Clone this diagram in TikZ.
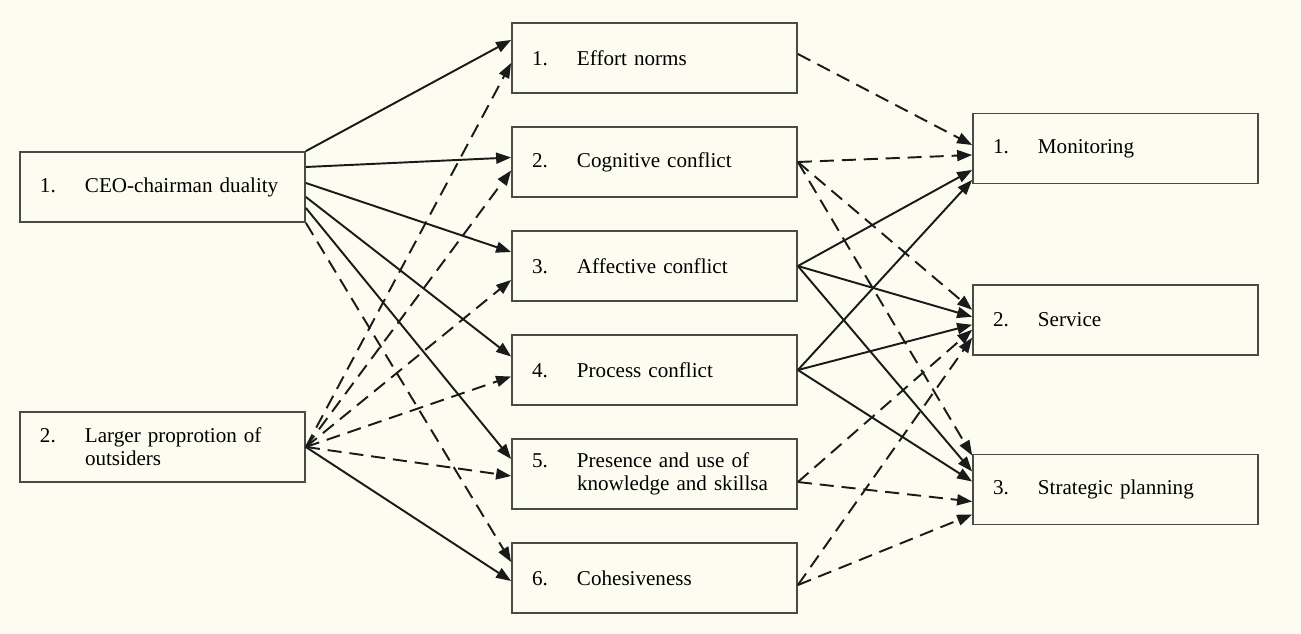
\documentclass[tikz,border=0pt]{standalone}
\usepackage{fontspec}
\setmainfont{Liberation Serif}
\usepackage{xcolor}
\usepackage{tikz}
\usetikzlibrary{arrows.meta, positioning}
\definecolor{PaperCream}{HTML}{FCFCF1}
\definecolor{BoxGrey}{HTML}{4A4A46}
\definecolor{InkBlack}{HTML}{1A1A1A}
\newcommand{\itemlabel}[2]{\makebox[0.9cm][l]{#1}#2}

\begin{document}
\begin{tikzpicture}[node distance=0.645cm, every node/.style={font=\fontsize{12}{13}\selectfont}]
  \tikzstyle{factor}=[rectangle, draw=BoxGrey, line width=1pt, minimum height=1.4cm, inner xsep=0.4cm, text width=4.9cm, align=left]
  \tikzstyle{link}=[-{Triangle[length=0.3cm, width=0.22cm]}, line width=1.1pt, draw=InkBlack]
  \tikzstyle{dlink}=[link, dash pattern=on 8pt off 4.5pt]

  \fill[PaperCream] (0,0) rectangle (26.02,12.68);
  \useasboundingbox (0,0) rectangle (26.02,12.68);

  \node[factor] (duality) at (3.25,8.94) {\itemlabel{1.}{CEO-chairman duality}};
  \node[factor] (outsiders) at (3.25,3.74) {\itemlabel{2.}{Larger proprotion of}\\\hspace*{0.9cm}outsiders};

  \node[factor] (effort) at (13.09,11.52) {\itemlabel{1.}{Effort norms}};
  \node[factor, below=of effort] (cognitive) {\itemlabel{2.}{Cognitive conflict}};
  \node[factor, below=of cognitive] (affective) {\itemlabel{3.}{Affective conflict}};
  \node[factor, below=of affective] (process) {\itemlabel{4.}{Process conflict}};
  \node[factor, below=of process] (knowledge) {\itemlabel{5.}{Presence and use of}\\\hspace*{0.9cm}knowledge and skillsa};
  \node[factor, below=of knowledge] (cohesion) {\itemlabel{6.}{Cohesiveness}};

  \node[factor] (monitor) at (22.31,9.71) {\itemlabel{1.}{Monitoring}};
  \node[factor, below=1.99cm of monitor] (service) {\itemlabel{2.}{Service}};
  \node[factor, below=1.96cm of service] (strategy) {\itemlabel{3.}{Strategic planning}};

  \draw[link] (duality.north east) -- ([yshift=0.36cm]effort.west);
  \draw[link] ([yshift=0.40cm]duality.east) -- ([yshift=0.09cm]cognitive.west);
  \draw[link] ([yshift=0.08cm]duality.east) -- ([yshift=0.28cm]affective.west);
  \draw[link] ([yshift=-0.20cm]duality.east) -- ([yshift=0.27cm]process.west);
  \draw[link] ([yshift=-0.42cm]duality.east) -- ([yshift=0.30cm]knowledge.west);
  \draw[dlink] (duality.south east) -- ([yshift=0.32cm]cohesion.west);

  \draw[dlink] (outsiders.east) -- ([yshift=-0.10cm]effort.west);
  \draw[dlink] (outsiders.east) -- ([yshift=-0.17cm]cognitive.west);
  \draw[dlink] (outsiders.east) -- ([yshift=-0.28cm]affective.west);
  \draw[dlink] (outsiders.east) -- ([yshift=-0.13cm]process.west);
  \draw[dlink] (outsiders.east) -- ([yshift=-0.04cm]knowledge.west);
  \draw[link] (outsiders.east) -- ([yshift=-0.06cm]cohesion.west);

  \draw[dlink] ([yshift=0.08cm]effort.east) -- ([yshift=0.07cm]monitor.west);
  \draw[dlink] (cognitive.east) -- ([yshift=-0.13cm]monitor.west);
  \draw[dlink] (cognitive.east) -- ([yshift=0.20cm]service.west);
  \draw[dlink] (cognitive.east) -- ([yshift=0.68cm]strategy.west);
  \draw[link] (affective.east) -- ([yshift=-0.43cm]monitor.west);
  \draw[link] (affective.east) -- ([yshift=0.06cm]service.west);
  \draw[link] (affective.east) -- ([yshift=0.36cm]strategy.west);
  \draw[link] (process.east) -- ([yshift=-0.63cm]monitor.west);
  \draw[link] (process.east) -- ([yshift=-0.10cm]service.west);
  \draw[link] (process.east) -- ([yshift=0.16cm]strategy.west);
  \draw[dlink] ([yshift=-0.16cm]knowledge.east) -- ([yshift=-0.20cm]service.west);
  \draw[dlink] ([yshift=-0.16cm]knowledge.east) -- ([yshift=-0.24cm]strategy.west);
  \draw[dlink] ([yshift=-0.14cm]cohesion.east) -- ([yshift=-0.36cm]service.west);
  \draw[dlink] ([yshift=-0.14cm]cohesion.east) -- ([yshift=-0.50cm]strategy.west);
\end{tikzpicture}
\end{document}
